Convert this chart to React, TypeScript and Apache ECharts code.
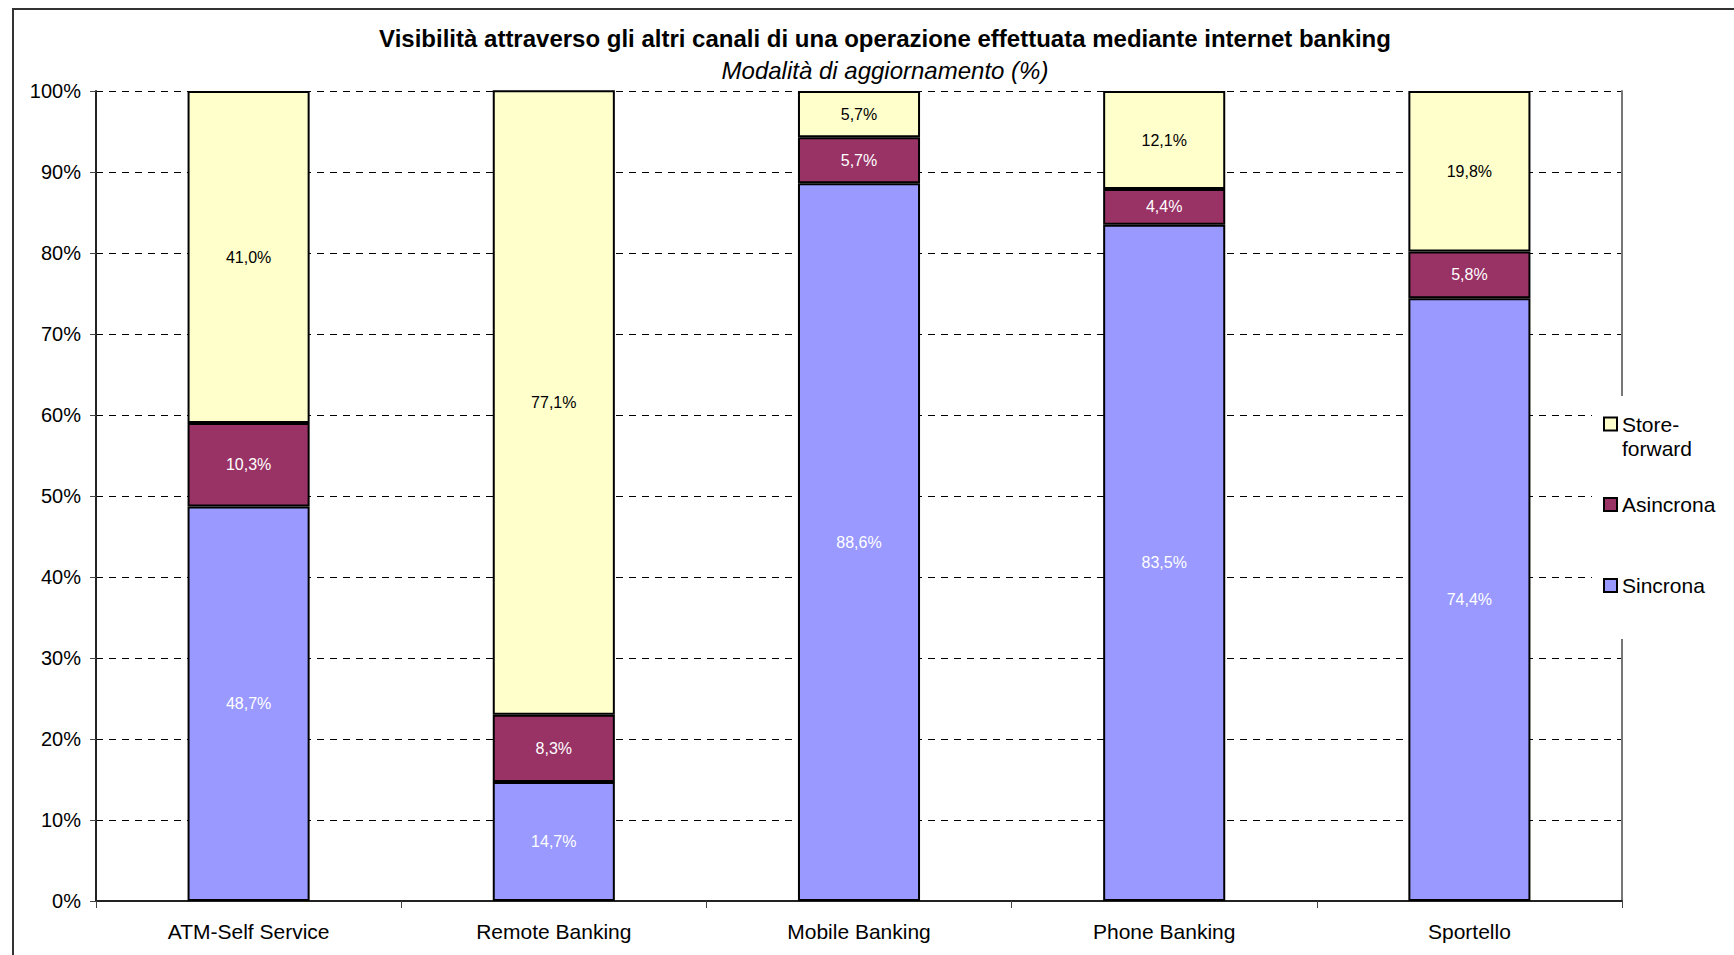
import React, { useEffect, useRef } from "react";
import * as echarts from "echarts";

const categories = ["ATM-Self Service", "Remote Banking", "Mobile Banking", "Phone Banking", "Sportello"];
const sincrona = [48.7, 14.7, 88.6, 83.5, 74.4];
const asincrona = [10.3, 8.3, 5.7, 4.4, 5.8];
const storeForward = [41.0, 77.1, 5.7, 12.1, 19.8];

const titleText = "Visibilità attraverso gli altri canali di una operazione effettuata mediante internet banking";
const subtitleText = "Modalità di aggiornamento (%)";

const FONT = "'Liberation Sans', Arial, sans-serif";

const fmt = (p: any) => Number(p.value).toFixed(1).replace(".", ",") + "%";

export default function App() {
  const ref = useRef<HTMLDivElement>(null);
  useEffect(() => {
    if (!ref.current) return;
    const chart = echarts.init(ref.current, undefined, { renderer: "svg" });
    const mkSeries = (name: string, data: number[], color: string, labelColor: string) => ({
      name,
      type: "bar",
      stack: "total",
      data,
      barCategoryGap: "60%",
      itemStyle: { color, borderColor: "#000", borderWidth: 2 },
      label: {
        show: true,
        position: "inside",
        formatter: fmt,
        color: labelColor,
        fontFamily: FONT,
        fontSize: 16,
      },
      emphasis: { disabled: true },
    });
    const legendCommon = {
      orient: "vertical",
      left: 1603,
      padding: 0,
      itemWidth: 13,
      itemHeight: 13,
      icon: "rect",
      selectedMode: false,
      textStyle: { fontFamily: FONT, fontSize: 21, color: "#000" },
      z: 10,
    };
    chart.setOption({
      animation: false,
      backgroundColor: "#fff",
      title: [
        {
          text: titleText,
          left: 880,
          textAlign: "center",
          top: 21,
          textStyle: { fontFamily: FONT, fontSize: 24, fontWeight: "bold", color: "#000" },
        },
        {
          text: subtitleText,
          left: 880,
          textAlign: "center",
          top: 53,
          textStyle: { fontFamily: FONT, fontSize: 24, fontStyle: "italic", fontWeight: "normal", color: "#000" },
        },
      ],
      legend: [
        {
          ...legendCommon,
          top: 388,
          data: ["Store-forward"],
          formatter: () => " \nStore-\nforward",
          textStyle: { fontFamily: FONT, fontSize: 21, color: "#000", lineHeight: 24 },
        },
        { ...legendCommon, top: 494, data: ["Asincrona"] },
        { ...legendCommon, top: 575, data: ["Sincrona"] },
      ],
      grid: { left: 96, right: 112, top: 91, bottom: 54, containLabel: false },
      xAxis: {
        type: "category",
        data: categories,
        axisLine: { lineStyle: { color: "#222", width: 2 } },
        axisTick: { show: true, length: 7, lineStyle: { color: "#444", width: 1 } },
        axisLabel: { fontFamily: FONT, fontSize: 21, color: "#000", margin: 20 },
      },
      yAxis: [
        {
          type: "value",
          min: 0,
          max: 100,
          interval: 10,
          axisLine: { show: true, lineStyle: { color: "#222", width: 2 } },
          axisTick: { show: true, length: 6, lineStyle: { color: "#444" } },
          axisLabel: { formatter: "{value}%", fontFamily: FONT, fontSize: 20, color: "#000", margin: 15 },
          splitLine: { show: true, lineStyle: { color: "#000", type: [7, 6], width: 1 } },
        },
        {
          type: "value",
          min: 0,
          max: 100,
          interval: 10,
          position: "right",
          axisLine: { show: true, lineStyle: { color: "#777", width: 2 } },
          axisTick: { show: false },
          axisLabel: { show: false },
          splitLine: { show: false },
        },
      ],
      graphic: [
        {
          type: "rect",
          shape: { x: 13, y: 9, width: 1800, height: 1000 },
          style: { fill: "none", stroke: "#333", lineWidth: 2 },
          silent: true,
          z: 1,
        },
        {
          type: "rect",
          shape: { x: 1592, y: 396, width: 140, height: 243 },
          style: { fill: "#fff" },
          silent: true,
          z: 3,
        },
      ],
      series: [
        mkSeries("Sincrona", sincrona, "#9999FF", "#fff"),
        mkSeries("Asincrona", asincrona, "#993366", "#fff"),
        mkSeries("Store-forward", storeForward, "#FFFFCC", "#000"),
      ],
    });
    return () => chart.dispose();
  }, []);
  return <div ref={ref} style={{ width: 1734, height: 955, position: "absolute", left: 0, top: 0 }} />;
}
